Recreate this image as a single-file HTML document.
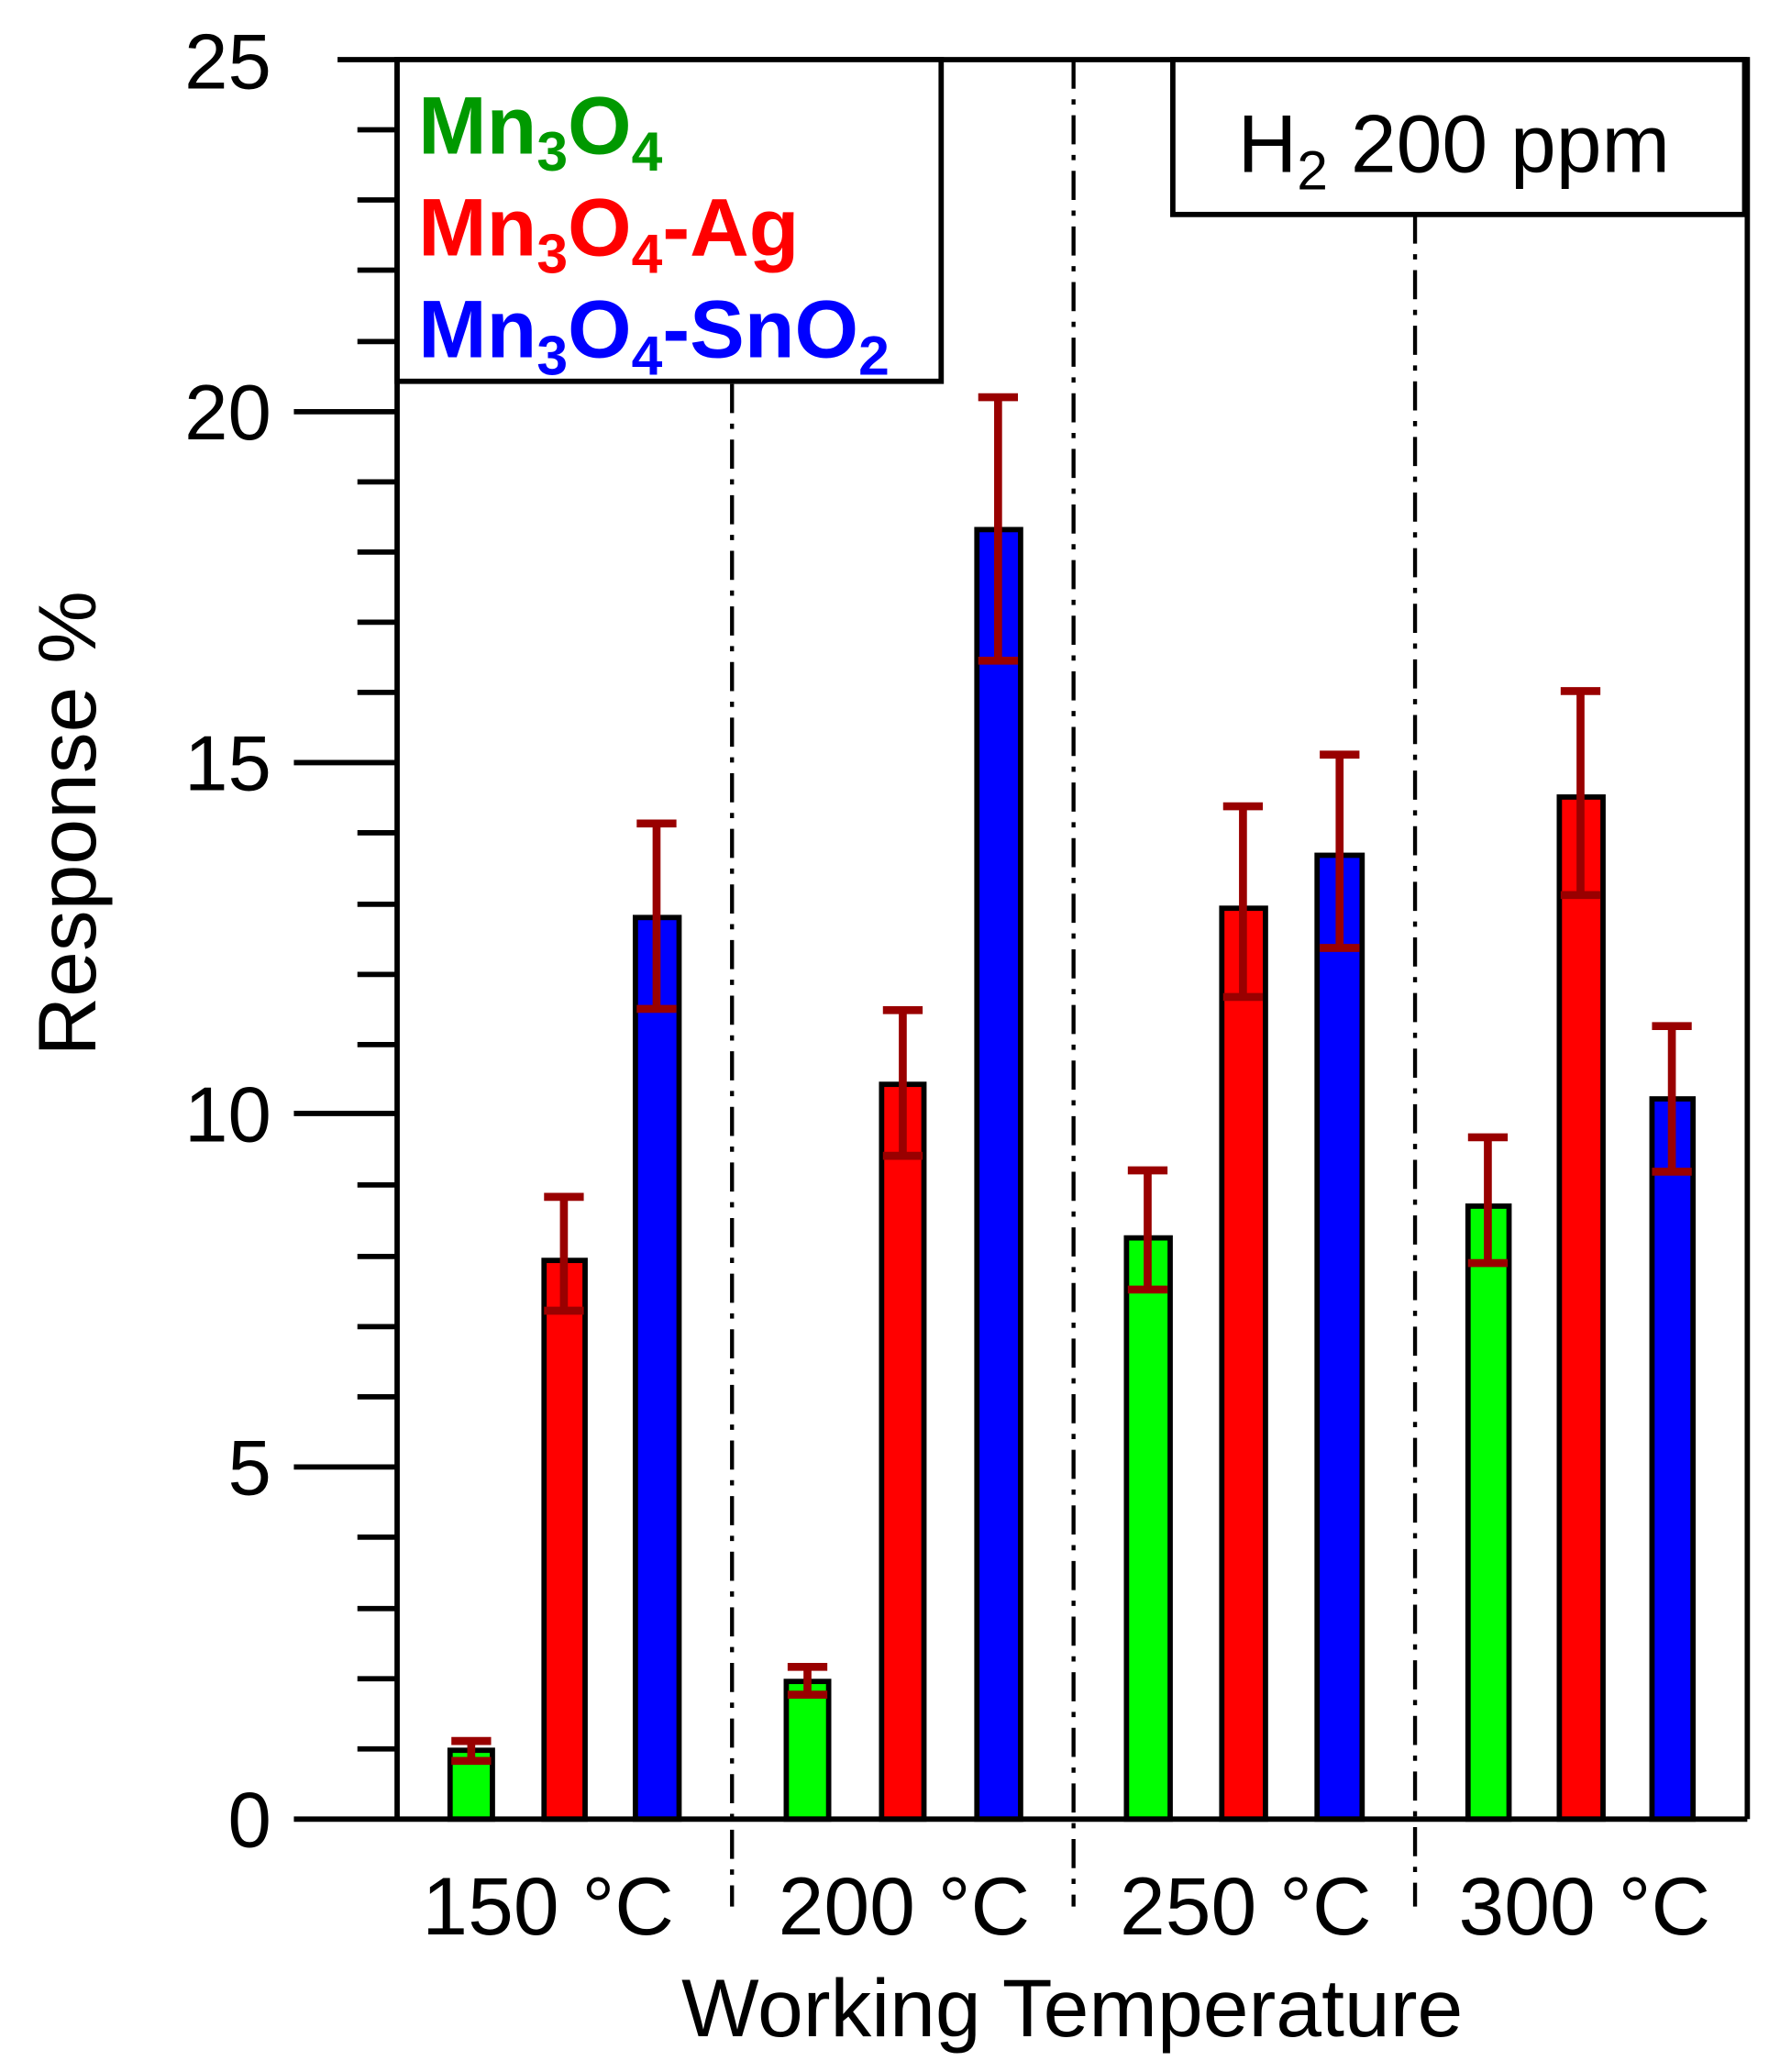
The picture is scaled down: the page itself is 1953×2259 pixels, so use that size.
<!DOCTYPE html>
<html><head><meta charset="utf-8"><style>html,body{margin:0;padding:0;background:#fff}svg{display:block}</style></head>
<body>
<svg width="1953" height="2259" viewBox="0 0 1353 1565" xmlns="http://www.w3.org/2000/svg" font-family="Liberation Sans, sans-serif">
<rect width="1353" height="1565" fill="#fff"/>
<g stroke="#000" stroke-width="3" stroke-dasharray="22,8,4,8">
<line x1="553" y1="290" x2="553" y2="1440"/>
<line x1="811" y1="45" x2="811" y2="1440"/>
<line x1="1069" y1="162" x2="1069" y2="1440"/>
</g>
<g stroke="#000" stroke-width="4">
<rect x="340" y="1322" width="32" height="52" fill="#00ff00"/>
<rect x="411" y="952" width="31" height="422" fill="#ff0000"/>
<rect x="480" y="693" width="33" height="681" fill="#0000ff"/>
<rect x="594" y="1270" width="32" height="104" fill="#00ff00"/>
<rect x="666" y="819" width="32" height="555" fill="#ff0000"/>
<rect x="738" y="400" width="33" height="974" fill="#0000ff"/>
<rect x="851" y="935" width="33" height="439" fill="#00ff00"/>
<rect x="923" y="686" width="33" height="688" fill="#ff0000"/>
<rect x="995" y="646" width="34" height="728" fill="#0000ff"/>
<rect x="1109" y="911" width="31" height="463" fill="#00ff00"/>
<rect x="1178" y="602" width="33" height="772" fill="#ff0000"/>
<rect x="1248" y="830" width="31" height="544" fill="#0000ff"/>
</g>
<g stroke="#990000" stroke-width="6" fill="none">
<path d="M356 1315V1330M341 1315H371M341 1330H371"/>
<path d="M426 904V990M411 904H441M411 990H441"/>
<path d="M496 622V762M481 622H511M481 762H511"/>
<path d="M610 1259V1280M595 1259H625M595 1280H625"/>
<path d="M682 763V873M667 763H697M667 873H697"/>
<path d="M754 300V499M739 300H769M739 499H769"/>
<path d="M867 884V974M852 884H882M852 974H882"/>
<path d="M939 609V753M924 609H954M924 753H954"/>
<path d="M1012 570V716M997 570H1027M997 716H1027"/>
<path d="M1124 859V954M1109 859H1139M1109 954H1139"/>
<path d="M1194 522V676M1179 522H1209M1179 676H1209"/>
<path d="M1263 775V885M1248 775H1278M1248 885H1278"/>
</g>
<g stroke="#000" stroke-width="4" fill="none">
<path d="M255 45H1320V1374M300 45V1374M222 1374H1320"/>
<path d="M222 1108H300M222 841H300M222 576H300M222 311H300"/>
<path d="M270 1321H300M270 1268H300M270 1215H300M270 1161H300M270 1055H300M270 1002H300M270 949H300M270 895H300M270 789H300M270 736H300M270 683H300M270 629H300M270 523H300M270 470H300M270 417H300M270 364H300M270 258H300M270 204H300M270 151H300M270 98H300"/>
</g>
<rect x="300" y="45" width="411" height="243" fill="#fff" stroke="#000" stroke-width="4"/>
<rect x="886" y="45" width="432" height="117" fill="#fff" stroke="#000" stroke-width="4"/>
<g font-size="59" text-anchor="end" fill="#000">
<text x="205" y="1395">0</text>
<text x="205" y="1129">5</text>
<text x="205" y="862">10</text>
<text x="205" y="597">15</text>
<text x="205" y="332">20</text>
<text x="205" y="67">25</text>
</g>
<g font-size="62" text-anchor="middle" fill="#000">
<text x="414" y="1461">150 °C</text>
<text x="683" y="1461">200 °C</text>
<text x="941" y="1461">250 °C</text>
<text x="1197" y="1461">300 °C</text>
<text x="810" y="1538">Working Temperature</text>
<text transform="translate(72,622) rotate(-90)">Response %</text>
</g>
<text x="935" y="130" font-size="62">H<tspan font-size="42" dy="13">2</tspan><tspan dy="-13"> 200 ppm</tspan></text>
<g font-size="62" font-weight="bold">
<text x="316" y="116" fill="#009900">Mn<tspan font-size="42" dy="13">3</tspan><tspan dy="-13">O</tspan><tspan font-size="42" dy="13">4</tspan></text>
<text x="316" y="193" fill="#ff0000">Mn<tspan font-size="42" dy="13">3</tspan><tspan dy="-13">O</tspan><tspan font-size="42" dy="13">4</tspan><tspan dy="-13">-Ag</tspan></text>
<text x="316" y="270" fill="#0000ff">Mn<tspan font-size="42" dy="13">3</tspan><tspan dy="-13">O</tspan><tspan font-size="42" dy="13">4</tspan><tspan dy="-13">-SnO</tspan><tspan font-size="42" dy="13">2</tspan></text>
</g>
</svg>
</body></html>
